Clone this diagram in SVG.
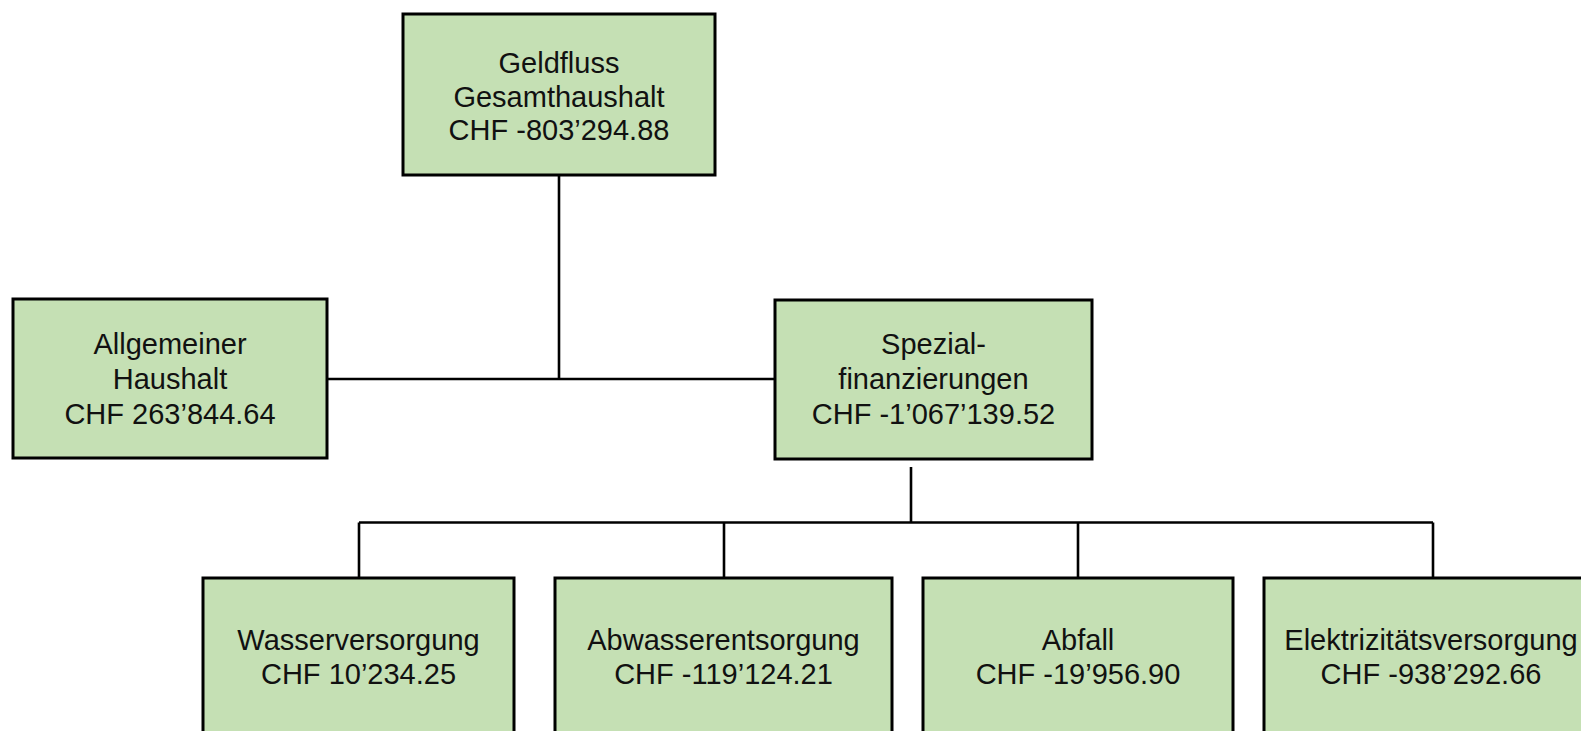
<svg xmlns="http://www.w3.org/2000/svg" width="1581" height="731" viewBox="0 0 1581 731">
<style>
.box{fill:#C5E0B4;stroke:#000;stroke-width:3}
.lbl{font-family:"Liberation Sans",Arial,sans-serif;font-size:29px;fill:#111;text-anchor:middle}
.con{fill:none;stroke:#000;stroke-width:2.6}
</style>
<rect width="1581" height="731" fill="#fff"/>
<g id="connectors">
<path class="con" d="M559,175 V379"/>
<path class="con" d="M327,379 H775"/>
<path class="con" d="M911,467 V522.5"/>
<path class="con" d="M359,522.5 H1433"/>
<path class="con" d="M359,522.5 V578"/>
<path class="con" d="M724,522.5 V578"/>
<path class="con" d="M1078,522.5 V578"/>
<path class="con" d="M1433,522.5 V578"/>
</g>
<g id="node-gesamthaushalt">
<rect class="box" x="403" y="14" width="312" height="161"/>
<text class="lbl" x="559" y="72.5">Geldfluss</text>
<text class="lbl" x="559" y="106.5">Gesamthaushalt</text>
<text class="lbl" x="559" y="140">CHF -803’294.88</text>
</g>
<g id="node-allgemeiner">
<rect class="box" x="13" y="299" width="314" height="159"/>
<text class="lbl" x="170" y="354">Allgemeiner</text>
<text class="lbl" x="170" y="389">Haushalt</text>
<text class="lbl" x="170" y="424">CHF 263’844.64</text>
</g>
<g id="node-spezial">
<rect class="box" x="775" y="300" width="317" height="159"/>
<text class="lbl" x="933.5" y="354">Spezial-</text>
<text class="lbl" x="933.5" y="389">finanzierungen</text>
<text class="lbl" x="933.5" y="424">CHF -1’067’139.52</text>
</g>
<g id="node-wasser">
<rect class="box" x="203" y="578" width="311" height="180"/>
<text class="lbl" x="358.5" y="650">Wasserversorgung</text>
<text class="lbl" x="358.5" y="684">CHF 10’234.25</text>
</g>
<g id="node-abwasser">
<rect class="box" x="555" y="578" width="337" height="180"/>
<text class="lbl" x="723.5" y="650">Abwasserentsorgung</text>
<text class="lbl" x="723.5" y="684">CHF -119’124.21</text>
</g>
<g id="node-abfall">
<rect class="box" x="923" y="578" width="310" height="180"/>
<text class="lbl" x="1078" y="650">Abfall</text>
<text class="lbl" x="1078" y="684">CHF -19’956.90</text>
</g>
<g id="node-elektrizitaet">
<rect class="box" x="1264" y="578" width="338" height="180"/>
<text class="lbl" x="1431" y="650">Elektrizitätsversorgung</text>
<text class="lbl" x="1431" y="684">CHF -938’292.66</text>
</g>
</svg>
